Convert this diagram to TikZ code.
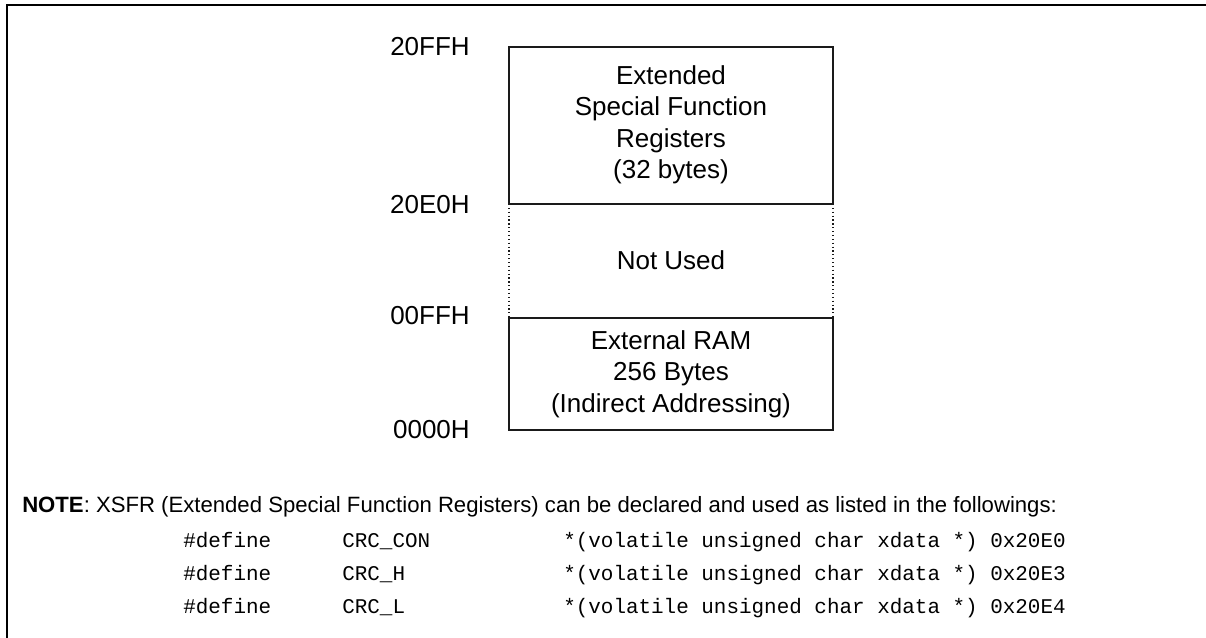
\documentclass[tikz,border=0pt]{standalone}
\usepackage{fontspec}
\setmainfont{Liberation Sans}
\setmonofont{Liberation Mono}
\usepackage{tikz}
\definecolor{frameln}{HTML}{000000}
\definecolor{boxln}{HTML}{1A1A1A}
\tikzset{
  membox/.style={draw=boxln,line width=0.9pt},
  unused/.style={draw=boxln,line width=0.9pt,dotted},
  boxtext/.style={align=center,font=\fontsize{19.5}{23.6}\selectfont,inner sep=0pt},
  addrtext/.style={anchor=east,font=\fontsize{19.5}{23.6}\selectfont,inner sep=0pt},
  notetext/.style={anchor=west,font=\fontsize{16.6}{19}\selectfont,inner sep=0pt},
  codetext/.style={anchor=west,font=\fontsize{15.7}{18}\ttfamily,inner sep=0pt}
}
\newcommand{\xsfrline}[4]{%
  \node[codetext] (#1) at (183,#2) {\makebox[119.25pt][l]{\#define}\makebox[165.75pt][l]{#3}*(volatile unsigned char xdata *) #4};
}

\begin{document}
\begin{tikzpicture}[x=0.75pt,y=-0.75pt]
    \useasboundingbox (0,0) rectangle (1206,638);
    % outer frame, open at right and bottom
    \draw[frameln,line width=1.9pt] (7,638) -- (7,5) -- (1206,5);
    % memory map
    \draw[membox] (509,47) rectangle (833,204);
    \draw[unused] (509,204) -- (509,318);
    \draw[unused] (833,204) -- (833,318);
    \draw[membox] (509,318) rectangle (833,430);
    \node[boxtext] (xsfr) at (671,125) {Extended\\Special Function\\Registers\\(32 bytes)};
    \node[boxtext] (notused) at (671,260) {Not Used};
    \node[boxtext] (xram) at (671,374) {External RAM\\256 Bytes\\(Indirect Addressing)};
    \node[addrtext] (a20ff) at (470,47) {20FFH};
    \node[addrtext] (a20e0) at (470,205) {20E0H};
    \node[addrtext] (a00ff) at (470,316) {00FFH};
    \node[addrtext] (a0000) at (470,430) {0000H};
    % note and declarations
    \node[notetext] (note) at (22,507) {\textbf{NOTE}: XSFR (Extended Special Function Registers) can be declared and used as listed in the followings:};
    \xsfrline{crccon}{542}{CRC\_CON}{0x20E0}
    \xsfrline{crch}{575}{CRC\_H}{0x20E3}
    \xsfrline{crcl}{608}{CRC\_L}{0x20E4}
  \end{tikzpicture}
\end{document}
